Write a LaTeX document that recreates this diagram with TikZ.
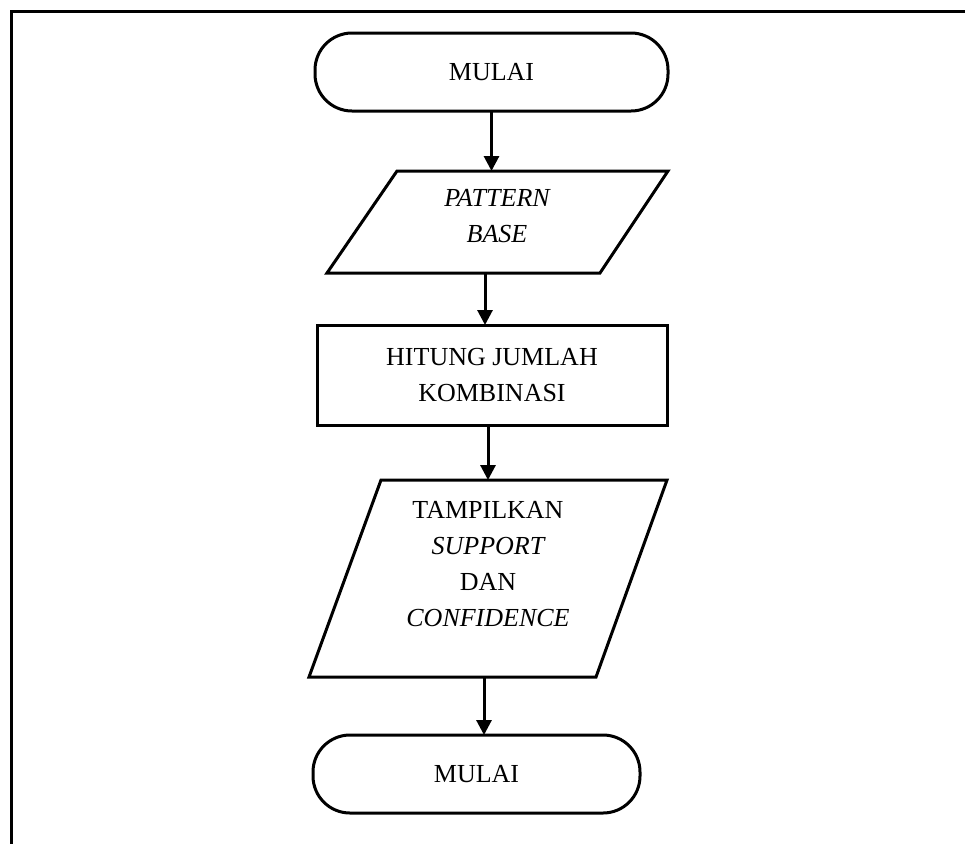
\documentclass[tikz,border=0pt]{standalone}
\usepackage{fontspec}
\setmainfont{Liberation Serif}
\usetikzlibrary{arrows.meta}
\begin{document}
\begin{tikzpicture}[x=1pt,y=-1pt,
  lw/.style={line width=3pt},
  term/.style={draw,lw,rounded corners=37pt,inner sep=0pt,outer sep=0pt,align=center,font=\fontsize{26}{36}\selectfont},
  procbox/.style={draw,lw,inner sep=0pt,outer sep=0pt,align=center,font=\fontsize{26}{36}\selectfont},
  holder/.style={inner sep=0pt,outer sep=0pt},
  txt/.style={align=center,inner sep=0pt,font=\fontsize{26}{36}\selectfont},
  arr/.style={lw,-{Triangle[length=15pt,width=15pt]}}]
\useasboundingbox (0,0) rectangle (965,844);
% frame
\draw[lw] (965,11) -- (11,11) -- (11,844);
% nodes
\node[term,minimum width=353pt,minimum height=78pt] (t1) at (491.5,72) {MULAI};
\node[holder,minimum width=341pt,minimum height=102pt] (p1) at (497.5,222) {};
\draw[lw,line join=miter] ([xshift=70pt]p1.north west) -- (p1.north east) -- ([xshift=-68pt]p1.south east) -- (p1.south west) -- cycle;
\node[txt] (p1t) at (497,216) {\itshape PATTERN\\\itshape BASE};
\node[procbox,minimum width=350pt,minimum height=100pt] (r) at (492,375) {HITUNG JUMLAH\\KOMBINASI};
\node[holder,minimum width=358pt,minimum height=197pt] (p2) at (488,578.5) {};
\draw[lw,line join=miter] ([xshift=72pt]p2.north west) -- (p2.north east) -- ([xshift=-71pt]p2.south east) -- (p2.south west) -- cycle;
\node[txt] (p2t) at (488,564) {TAMPILKAN\\\itshape SUPPORT\\DAN\\\itshape CONFIDENCE};
\node[term,minimum width=327pt,minimum height=78pt] (t2) at (476.5,774) {MULAI};
% connectors
\draw[arr] (t1.south) -- (t1.south |- p1.north);
\draw[arr] ([xshift=-12.5pt]p1.south) -- ([xshift=-12.5pt]p1.south |- r.north);
\draw[arr] ([xshift=-4pt]r.south) -- ([xshift=-4pt]r.south |- p2.north);
\draw[arr] ([xshift=-4pt]p2.south) -- ([xshift=-4pt]p2.south |- t2.north);
\end{tikzpicture}
\end{document}
